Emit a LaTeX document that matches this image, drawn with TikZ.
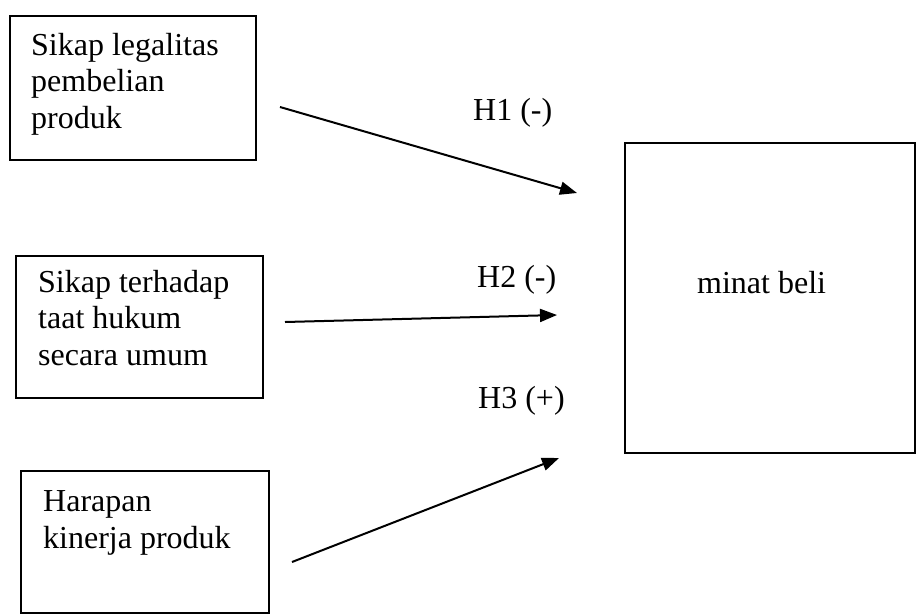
\documentclass[tikz,border=0pt]{standalone}
\usepackage{fontspec}
\setmainfont{Liberation Serif}
\usetikzlibrary{arrows.meta}
\begin{document}
\begin{tikzpicture}[x=1pt,y=-1pt,
  varbox/.style={draw, line width=2pt, inner sep=0pt},
  boxtext/.style={anchor=base west, inner sep=0pt, align=left,
    font=\fontsize{32}{36.5}\selectfont},
  hyplabel/.style={anchor=base west, inner sep=0pt,
    font=\fontsize{32}{36.5}\selectfont},
  effect/.style={line width=2pt, -{Triangle[length=17pt,width=13pt]}}]
\useasboundingbox (0,0) rectangle (916,614);

% independent variables (text placed by the baseline of its last line)
\node[varbox, minimum width=246pt, minimum height=144pt, anchor=north west] (legal) at (9,15) {};
\node[boxtext] (legaltxt) at (31,128) {Sikap legalitas\\pembelian\\produk};

\node[varbox, minimum width=247pt, minimum height=142pt, anchor=north west] (hukum) at (15,255) {};
\node[boxtext] (hukumtxt) at (38,365) {Sikap terhadap\\taat hukum\\secara umum};

\node[varbox, minimum width=248pt, minimum height=142pt, anchor=north west] (kinerja) at (20,470) {};
\node[boxtext] (kinerjatxt) at (43,548) {Harapan\\kinerja produk};

% dependent variable
\node[varbox, minimum width=290pt, minimum height=310pt, anchor=north west] (minat) at (624,142) {};
\node[boxtext] (minattxt) at (697,293) {minat beli};

% arrow end points
\coordinate (s1) at (280,107);
\coordinate (e1) at (577,193);
\coordinate (s2) at (285,322);
\coordinate (e2) at (557,315);
\coordinate (s3) at (292,562);
\coordinate (e3) at (559,458);

\draw[effect] (s1) -- (e1);
\draw[effect] (s2) -- (e2);
\draw[effect] (s3) -- (e3);

% hypothesis labels
\node[hyplabel] (h1) at (473,120) {H1 (-)};
\node[hyplabel] (h2) at (477,287) {H2 (-)};
\node[hyplabel] (h3) at (478,408) {H3 (+)};
\end{tikzpicture}
\end{document}
